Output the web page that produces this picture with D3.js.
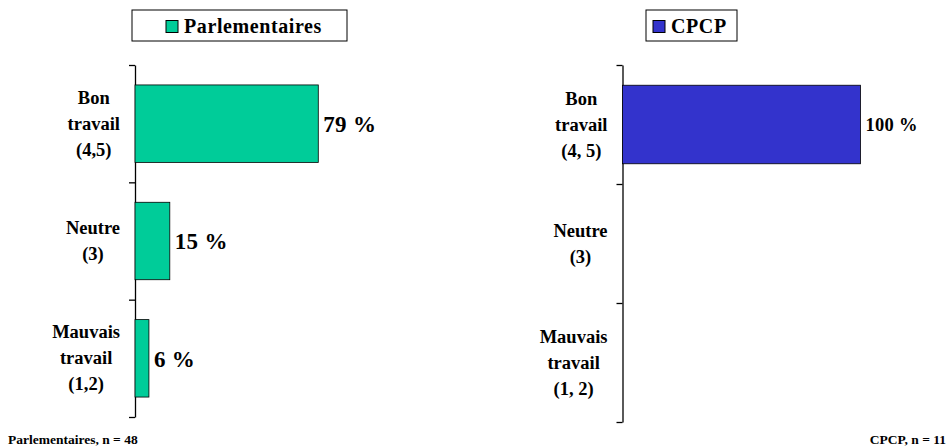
<!DOCTYPE html>
<html>
<head>
<meta charset="utf-8">
<script src="https://cdn.jsdelivr.net/npm/d3@7"></script>
<style>
  body { margin: 0; background: #fff; }
  svg text { font-family: 'Liberation Serif', 'Times New Roman', Times, 'DejaVu Serif', serif; font-weight: 700; }
</style>
</head>
<body>
<svg id="chart" width="948" height="447"></svg>
<script>
// data
var leftCategories = ["Bon|travail|(4,5)", "Neutre|(3)", "Mauvais|travail|(1,2)"];
var leftValues = [79, 15, 6];
var rightCategories = ["Bon|travail|(4, 5)", "Neutre|(3)", "Mauvais|travail|(1, 2)"];
var rightValues = [100, null, null];
var seriesNames = ["Parlementaires", "CPCP"];
var footnotes = ["Parlementaires, n = 48", "CPCP, n = 11"];

var svg = d3.select("#chart");

// draws one panel
function panel(opt){
    var g = svg.append("g");

    var y = d3.scaleBand()
        .domain(opt.cats)
        .range(opt.yRange)
        .paddingInner(0.34)
        .paddingOuter(0.17);

    // boundaries for the ticks between categories
    var yb = d3.scaleLinear().domain([0, opt.cats.length]).range(opt.yRange);

    var x = d3.scaleLinear().domain([0, 100]).range([opt.x0, opt.x0 + opt.w100]);

    g.append("g")
        .attr("transform", "translate(" + opt.x0 + ",0)")
        .call(d3.axisLeft(yb).ticks(opt.cats.length).tickFormat("").tickSize(6).tickSizeOuter(0))
        .call(function(a){
            a.selectAll("path,line").attr("stroke", "#000").attr("stroke-width", 1.3);
        });

    var rows = opt.cats.map(function(c, i){ return {cat: c, v: opt.vals[i]}; });

    g.selectAll("rect.bar")
        .data(rows.filter(function(d){ return d.v != null; }))
        .enter()
        .append("rect")
        .attr("class", "bar")
        .attr("x", x(0))
        .attr("y", function(d){ return y(d.cat); })
        .attr("width", function(d){ return x(d.v) - x(0); })
        .attr("height", y.bandwidth())
        .attr("fill", opt.color)
        .attr("stroke", "#000")
        .attr("stroke-width", 0.8);

    g.selectAll("text.val")
        .data(rows.filter(function(d){ return d.v != null; }))
        .enter()
        .append("text")
        .attr("class", "val")
        .attr("x", function(d){ return x(d.v) + 5; })
        .attr("y", function(d){ return y(d.cat) + y.bandwidth() / 2 + opt.valSize * 0.36; })
        .attr("font-size", opt.valSize)
        .attr("letter-spacing", 0.3)
        .text(function(d){ return d.v + " %"; });

    // category labels, block centered, right edge next to axis
    rows.forEach(function(d){
        var lines = d.cat.split("|");
        var cy = y(d.cat) + y.bandwidth() / 2;
        var t = g.append("text")
            .attr("font-size", 18.5)
            .attr("text-anchor", "middle");
        lines.forEach(function(l, k){
            t.append("tspan")
                .attr("x", 0)
                .attr("y", cy + (k - (lines.length - 1) / 2) * 26 + 6)
                .text(l);
        });
        var bw = t.node().getBBox().width;
        t.attr("transform", "translate(" + (opt.x0 - 15 - bw / 2) + ",0)");
    });

    // legend
    var lg = g.append("g");
    lg.append("rect")
        .attr("x", opt.legX).attr("y", 10)
        .attr("width", opt.legW).attr("height", 31)
        .attr("fill", "#fff").attr("stroke", "#000").attr("stroke-width", 1);
    lg.append("rect")
        .attr("x", opt.legX + opt.legPad).attr("y", 20.5)
        .attr("width", 12).attr("height", 12)
        .attr("fill", opt.color).attr("stroke", "#000").attr("stroke-width", 1);
    lg.append("text")
        .attr("x", opt.legX + opt.legPad + 18).attr("y", 33)
        .attr("font-size", 20)
        .attr("letter-spacing", 0.6)
        .text(opt.name);
}

panel({
    cats: leftCategories, vals: leftValues, name: seriesNames[0],
    color: "#00CC99", x0: 135, w100: 232, yRange: [65, 417],
    valSize: 23, legX: 132, legW: 215, legPad: 34
});

panel({
    cats: rightCategories, vals: rightValues, name: seriesNames[1],
    color: "#3333CC", x0: 622.5, w100: 238, yRange: [65, 422],
    valSize: 18.5, legX: 646, legW: 91, legPad: 7
});

svg.append("text")
    .attr("x", 8).attr("y", 444)
    .attr("font-size", 13.5)
    .text(footnotes[0]);

svg.append("text")
    .attr("x", 946).attr("y", 444)
    .attr("text-anchor", "end")
    .attr("font-size", 13.5)
    .text(footnotes[1]);
</script>
</body>
</html>
